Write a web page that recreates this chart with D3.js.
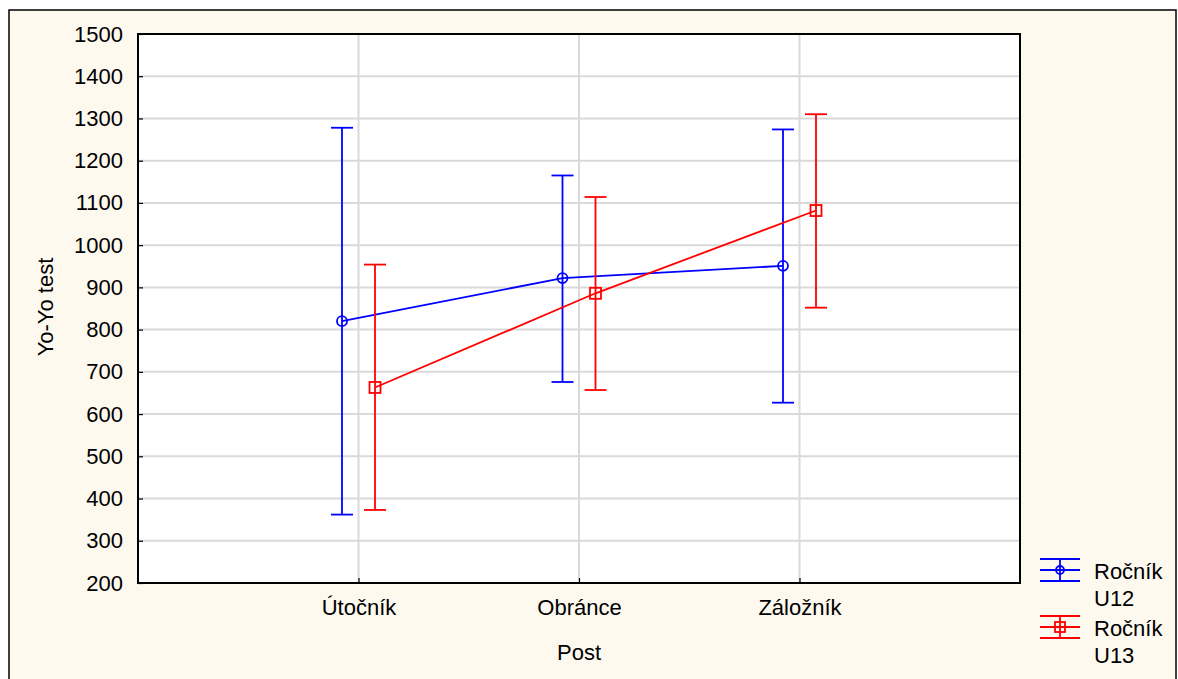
<!DOCTYPE html>
<html><head><meta charset="utf-8">
<script src="https://cdn.jsdelivr.net/npm/d3@7"></script>
<style>body{margin:0;background:#fff}svg{display:block}text{font-family:"Liberation Sans",Arial,sans-serif}</style>
</head><body><svg id="c" width="1178" height="679"></svg>
<script>
const categories = ["Útočník", "Obránce", "Záložník"];
const seriesNames = ["Ročník\nU12", "Ročník\nU13"];
const u12Mean = [820, 922, 951];
const u12Low  = [362, 676, 627];
const u12High = [1278, 1165, 1274];
const u13Mean = [663, 886, 1082];
const u13Low  = [373, 657, 852];
const u13High = [954, 1114, 1310];
const yTicks = [200,300,400,500,600,700,800,900,1000,1100,1200,1300,1400,1500];
const colors = ["#0000ff", "#ff0000"];

const FS = 22;
const svg = d3.select("#c");
const W = 1178, H = 679;
const m = {l:138, t:34, r:1020, b:583};
svg.append("rect").attr("x",0).attr("y",0).attr("width",W).attr("height",H).attr("fill","#fff");
svg.append("rect").attr("x",9).attr("y",10).attr("width",1167).attr("height",675)
  .attr("fill","#fdf9ef").attr("stroke","#000").attr("stroke-width",1.5);

const y = d3.scaleLinear().domain([200,1500]).range([m.b, m.t]);
const xp = d3.scalePoint().domain(["", ...categories, " "]).range([m.l, m.r]);
const off = [-16.5, 16.5];

svg.append("rect").attr("x",m.l).attr("y",m.t).attr("width",m.r-m.l).attr("height",m.b-m.t).attr("fill","#fff");

const g = svg.append("g");
g.selectAll(".hg").data(yTicks.slice(1,-1)).join("line")
  .attr("x1",m.l).attr("x2",m.r).attr("y1",d=>y(d)).attr("y2",d=>y(d))
  .attr("stroke","#d9d9d9").attr("stroke-width",2);
g.selectAll(".vg").data(categories).join("line")
  .attr("x1",d=>xp(d)).attr("x2",d=>xp(d)).attr("y1",m.t).attr("y2",m.b)
  .attr("stroke","#d9d9d9").attr("stroke-width",2);

const yAxis = d3.axisLeft(y).tickValues(yTicks).tickSize(-5).tickPadding(15).tickFormat(d3.format("d"));
const ya = svg.append("g").attr("transform",`translate(${m.l},0)`).call(yAxis);
ya.select(".domain").remove();
ya.selectAll("line").attr("stroke","#000").attr("stroke-width",1.2);
ya.selectAll("text").attr("font-size",FS).attr("fill","#000").style("font-family","Liberation Sans, Arial, sans-serif");

const xAxis = d3.axisBottom(xp).tickValues(categories).tickSize(-5);
const xa = svg.append("g").attr("transform",`translate(0,${m.b})`).call(xAxis);
xa.select(".domain").remove();
xa.selectAll("line").attr("stroke","#000").attr("stroke-width",1.2);
xa.selectAll("text").attr("font-size",FS).attr("fill","#000").attr("y",32).attr("dy",0)
  .style("font-family","Liberation Sans, Arial, sans-serif");

svg.append("rect").attr("x",m.l).attr("y",m.t).attr("width",m.r-m.l).attr("height",m.b-m.t)
  .attr("fill","none").attr("stroke","#000").attr("stroke-width",2);

svg.append("text").attr("transform","translate(53,307) rotate(-90)").attr("text-anchor","middle")
  .attr("font-size",FS).text("Yo-Yo test");
svg.append("text").attr("x",(m.l+m.r)/2).attr("y",660).attr("text-anchor","middle")
  .attr("font-size",FS).text("Post");

const series = [
  {mean:u12Mean, low:u12Low, high:u12High, c:colors[0], shape:"circle", o:off[0]},
  {mean:u13Mean, low:u13Low, high:u13High, c:colors[1], shape:"square", o:off[1]}
];
const cap = 11;
series.forEach(s => {
  const sg = svg.append("g");
  const px = i => xp(categories[i]) + s.o;
  sg.selectAll(".eb").data(categories).join("line")
    .attr("x1",(d,i)=>px(i)).attr("x2",(d,i)=>px(i))
    .attr("y1",(d,i)=>y(s.low[i])).attr("y2",(d,i)=>y(s.high[i]))
    .attr("stroke",s.c).attr("stroke-width",1.8);
  ["low","high"].forEach(k => {
    sg.selectAll(".cap"+k).data(categories).join("line")
      .attr("x1",(d,i)=>px(i)-cap).attr("x2",(d,i)=>px(i)+cap)
      .attr("y1",(d,i)=>y(s[k][i])).attr("y2",(d,i)=>y(s[k][i]))
      .attr("stroke",s.c).attr("stroke-width",1.8);
  });
  const line = d3.line().x((d,i)=>px(i)).y(d=>y(d));
  sg.append("path").attr("d",line(s.mean)).attr("fill","none").attr("stroke",s.c).attr("stroke-width",1.8);
  if (s.shape === "circle") {
    sg.selectAll(".mk").data(s.mean).join("circle")
      .attr("cx",(d,i)=>px(i)).attr("cy",d=>y(d)).attr("r",5)
      .attr("fill","none").attr("stroke",s.c).attr("stroke-width",1.8);
  } else {
    sg.selectAll(".mk").data(s.mean).join("rect")
      .attr("x",(d,i)=>px(i)-5.5).attr("y",d=>y(d)-5.5).attr("width",11).attr("height",11)
      .attr("fill","none").attr("stroke",s.c).attr("stroke-width",1.8);
  }
});

const lg = svg.append("g");
seriesNames.forEach((name, i) => {
  const cy = 570 + i*57;
  const c = colors[i];
  [-11,0,11].forEach(dy => lg.append("line").attr("x1",1040).attr("x2",1080).attr("y1",cy+dy).attr("y2",cy+dy)
     .attr("stroke",c).attr("stroke-width",1.8));
  lg.append("line").attr("x1",1060).attr("x2",1060).attr("y1",cy-11).attr("y2",cy+11).attr("stroke",c).attr("stroke-width",1.8);
  if (i === 0) lg.append("circle").attr("cx",1060).attr("cy",cy).attr("r",4).attr("fill","none").attr("stroke",c).attr("stroke-width",1.8);
  else lg.append("rect").attr("x",1055).attr("y",cy-5).attr("width",10).attr("height",10).attr("fill","none").attr("stroke",c).attr("stroke-width",1.8);
  const parts = name.split("\n");
  const t = lg.append("text").attr("x",1094).attr("y",cy+9).attr("font-size",FS);
  parts.forEach((p,j)=> t.append("tspan").attr("x",1094).attr("dy", j===0?0:27).text(p));
});
</script></body></html>
